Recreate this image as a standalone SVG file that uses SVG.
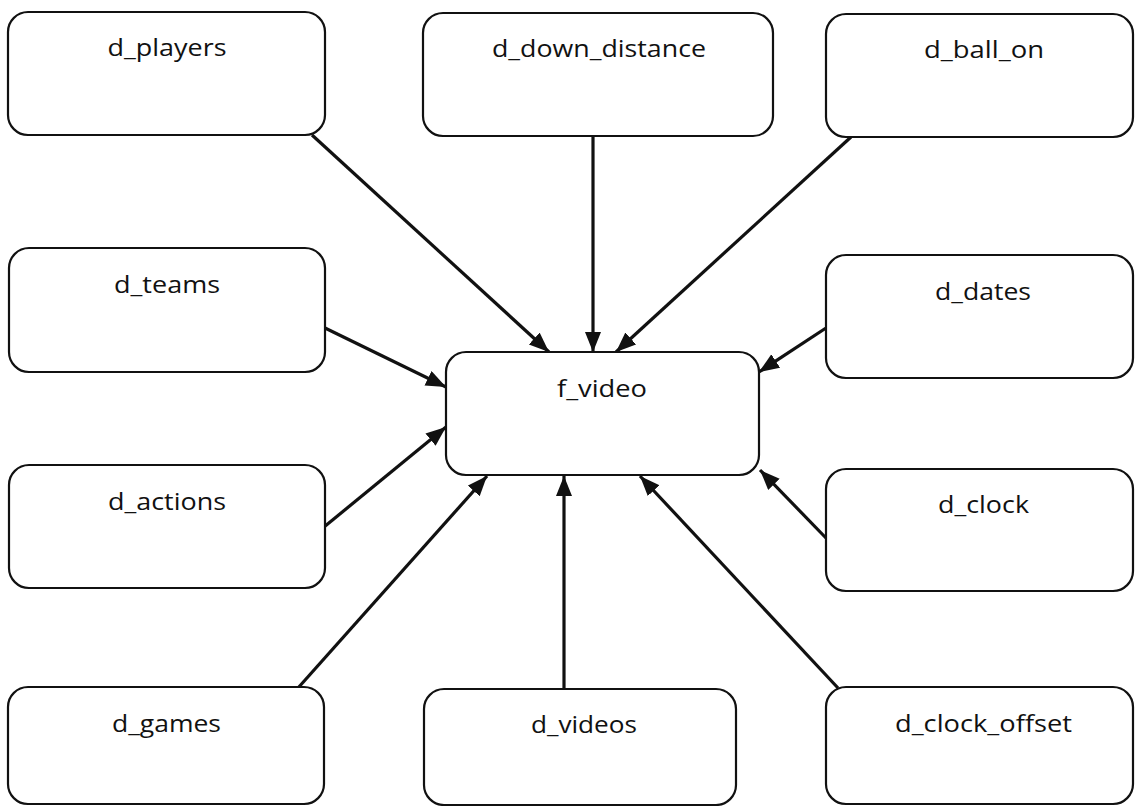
<svg xmlns="http://www.w3.org/2000/svg" width="1135" height="806" viewBox="0 0 1135 806">
<style>
.box{fill:#fff;stroke:#111;stroke-width:2.2}
.lbl{font-family:"Open Sans","Noto Sans",sans-serif;font-size:24px;fill:#111;text-anchor:middle}
.edge{stroke:#111;stroke-width:3.2;fill:none;marker-end:url(#ah)}
</style>
<defs>
<marker id="ah" markerUnits="userSpaceOnUse" markerWidth="22" markerHeight="18" refX="20" refY="8" orient="auto">
<path d="M0,0 L20,8 L0,16 z" fill="#111"/>
</marker>
</defs>
<rect width="1135" height="806" fill="#fff"/>
<g id="connectors">
<line class="edge" x1="312" y1="135" x2="549" y2="352"/>
<line class="edge" x1="593" y1="137" x2="593" y2="352"/>
<line class="edge" x1="851" y1="137" x2="616" y2="352"/>
<line class="edge" x1="325" y1="328" x2="446" y2="387"/>
<line class="edge" x1="826" y1="328" x2="759" y2="372"/>
<line class="edge" x1="324" y1="527" x2="446" y2="427"/>
<line class="edge" x1="826" y1="538" x2="760" y2="470"/>
<line class="edge" x1="298" y1="688" x2="487" y2="476"/>
<line class="edge" x1="564" y1="690" x2="564" y2="476"/>
<line class="edge" x1="838" y1="688" x2="640" y2="476"/>
</g>
<g id="d_players"><rect class="box" x="8" y="12" width="317" height="123" rx="20"/><text class="lbl" x="167" y="56" textLength="119" lengthAdjust="spacingAndGlyphs">d_players</text></g>
<g id="d_down_distance"><rect class="box" x="423" y="13" width="350" height="123" rx="20"/><text class="lbl" x="599" y="57" textLength="214" lengthAdjust="spacingAndGlyphs">d_down_distance</text></g>
<g id="d_ball_on"><rect class="box" x="826" y="14" width="307" height="123" rx="20"/><text class="lbl" x="984" y="58" textLength="120" lengthAdjust="spacingAndGlyphs">d_ball_on</text></g>
<g id="d_teams"><rect class="box" x="9" y="248" width="316" height="124" rx="20"/><text class="lbl" x="167" y="293" textLength="106" lengthAdjust="spacingAndGlyphs">d_teams</text></g>
<g id="d_dates"><rect class="box" x="826" y="255" width="307" height="123" rx="20"/><text class="lbl" x="983" y="300" textLength="96" lengthAdjust="spacingAndGlyphs">d_dates</text></g>
<g id="f_video"><rect class="box" x="446" y="352" width="313" height="123" rx="20"/><text class="lbl" x="602" y="397" textLength="90" lengthAdjust="spacingAndGlyphs">f_video</text></g>
<g id="d_actions"><rect class="box" x="9" y="465" width="316" height="123" rx="20"/><text class="lbl" x="167" y="510" textLength="118" lengthAdjust="spacingAndGlyphs">d_actions</text></g>
<g id="d_clock"><rect class="box" x="826" y="469" width="307" height="122" rx="20"/><text class="lbl" x="983.5" y="513" textLength="91" lengthAdjust="spacingAndGlyphs">d_clock</text></g>
<g id="d_games"><rect class="box" x="8" y="687" width="316" height="117" rx="20"/><text class="lbl" x="166.5" y="732" textLength="109" lengthAdjust="spacingAndGlyphs">d_games</text></g>
<g id="d_videos"><rect class="box" x="424" y="689" width="312" height="116" rx="20"/><text class="lbl" x="584" y="733" textLength="106" lengthAdjust="spacingAndGlyphs">d_videos</text></g>
<g id="d_clock_offset"><rect class="box" x="826" y="687" width="307" height="117" rx="20"/><text class="lbl" x="983.5" y="732" textLength="177" lengthAdjust="spacingAndGlyphs">d_clock_offset</text></g>
</svg>
